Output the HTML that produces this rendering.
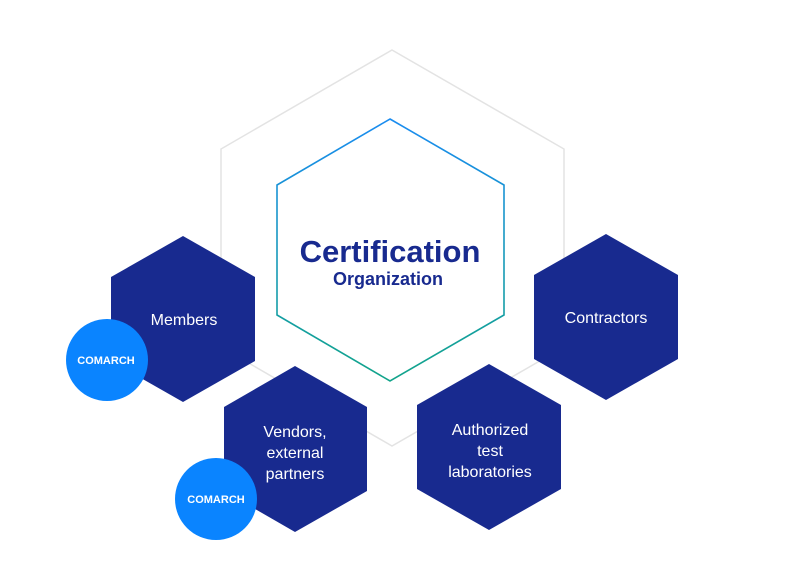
<!DOCTYPE html>
<html><head><meta charset="utf-8"><style>
html,body{margin:0;padding:0;background:#fff;}
svg{display:block;}
text{font-family:"Liberation Sans",sans-serif;}
</style></head><body>
<svg width="800" height="583" viewBox="0 0 800 583" xmlns="http://www.w3.org/2000/svg">
<defs>
<linearGradient id="g" x1="0" y1="0" x2="0" y2="1">
<stop offset="0" stop-color="#1a8cf0"/><stop offset="1" stop-color="#12a48a"/>
</linearGradient>
</defs>
<polygon points="392,50 564,149 564,347 392,446 221,347 221,149" fill="none" stroke="#e3e3e3" stroke-width="1.5"/>
<polygon points="390,119 504,185 504,315 390,381 277,315 277,185" fill="none" stroke="url(#g)" stroke-width="1.6"/>
<text x="390" y="262" text-anchor="middle" font-size="31" font-weight="bold" fill="#182a8f">Certification</text>
<text x="388" y="285" text-anchor="middle" font-size="18" font-weight="bold" fill="#182a8f">Organization</text>

<g fill="#182a8f">
<polygon points="183,236 255,277 255,361 183,402 111,361 111,277"/>
<polygon points="606,234 678,275 678,359 606,400 534,359 534,275"/>
<polygon points="295,366 367,407 367,491 295,532 224,491 224,407"/>
<polygon points="489,364 561,405 561,489 489,530 417,489 417,405"/>
</g>
<g fill="#fff" font-size="16" text-anchor="middle">
<text x="184" y="325">Members</text>
<text x="606" y="323">Contractors</text>
<text x="295" y="437">Vendors,</text>
<text x="295" y="458">external</text>
<text x="295" y="479">partners</text>
<text x="490" y="435">Authorized</text>
<text x="490" y="456">test</text>
<text x="490" y="477">laboratories</text>
</g>
<circle cx="107" cy="360" r="41" fill="#0a84ff"/>
<circle cx="216" cy="499" r="41" fill="#0a84ff"/>
<g fill="#fff" font-size="11" font-weight="bold" text-anchor="middle">
<text x="106" y="364">COMARCH</text>
<text x="216" y="503">COMARCH</text>
</g>
</svg>
</body></html>
